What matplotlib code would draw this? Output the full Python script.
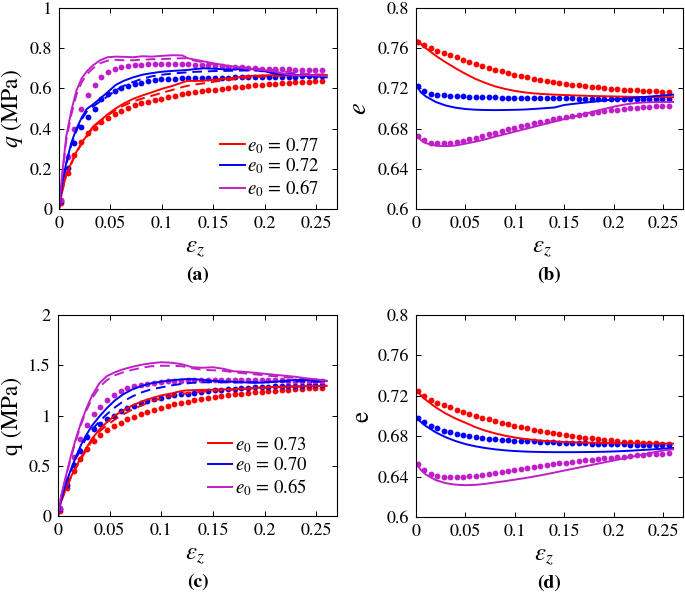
import matplotlib
matplotlib.use("Agg")
import matplotlib.pyplot as plt
from matplotlib.ticker import FuncFormatter

plt.rcParams['font.family'] = 'serif'
plt.rcParams['font.serif'] = ['STIXGeneral', 'Liberation Serif', 'DejaVu Serif']
plt.rcParams['mathtext.fontset'] = 'stix'

RED = '#ff0000'
BLUE = '#0000ff'
MAG = '#c01ec8'

# strain of the dotted series (shared by all panels)
dot_x = [0.002, 0.0085, 0.015, 0.0215, 0.028, 0.0345, 0.041, 0.0475, 0.054, 0.0605,
         0.067, 0.0735, 0.080, 0.0865, 0.093, 0.0995, 0.106, 0.1125, 0.119, 0.1255,
         0.132, 0.1385, 0.145, 0.1515, 0.158, 0.1645, 0.171, 0.1775, 0.184, 0.1905,
         0.197, 0.2035, 0.210, 0.2165, 0.223, 0.2295, 0.236, 0.2425, 0.249, 0.2555]

# strain of the q curves (a), (c)
q_x = [0, 0.003, 0.007, 0.012, 0.017, 0.022, 0.027, 0.033, 0.04, 0.047, 0.055, 0.063,
       0.072, 0.081, 0.09, 0.1, 0.11, 0.12, 0.125, 0.13, 0.14, 0.15, 0.16, 0.17, 0.18,
       0.19, 0.2, 0.21, 0.22, 0.23, 0.24, 0.25, 0.26]

# strain of the e curves (b), (d)
e_x = [0.001, 0.005, 0.01, 0.02, 0.03, 0.04, 0.05, 0.06, 0.07, 0.08, 0.09, 0.1, 0.11,
       0.12, 0.13, 0.14, 0.15, 0.16, 0.17, 0.18, 0.19, 0.2, 0.21, 0.22, 0.23, 0.24,
       0.25, 0.26]

# ---- panel (a) ----
a_red_solid = [0, 0.09, 0.17, 0.23, 0.285, 0.33, 0.365, 0.41, 0.44, 0.47, 0.50, 0.525,
               0.548, 0.565, 0.58, 0.598, 0.612, 0.63, 0.638, 0.637, 0.638, 0.643, 0.648,
               0.652, 0.66, 0.663, 0.665, 0.666, 0.664, 0.667, 0.665, 0.666, 0.667]
a_red_dash = [0, 0.085, 0.165, 0.225, 0.28, 0.325, 0.36, 0.405, 0.435, 0.465, 0.492, 0.515,
              0.535, 0.55, 0.563, 0.578, 0.592, 0.607, 0.613, 0.618, 0.625, 0.633, 0.64,
              0.645, 0.652, 0.657, 0.66, 0.662, 0.664, 0.665, 0.665, 0.664, 0.664]
a_blue_solid = [0, 0.12, 0.23, 0.33, 0.40, 0.455, 0.498, 0.52, 0.55, 0.58, 0.617, 0.638,
                0.655, 0.668, 0.676, 0.683, 0.687, 0.69, 0.692, 0.695, 0.70, 0.698, 0.695,
                0.694, 0.698, 0.695, 0.685, 0.672, 0.668, 0.665, 0.662, 0.66, 0.655]
a_blue_dash = [0, 0.11, 0.22, 0.32, 0.39, 0.445, 0.485, 0.51, 0.535, 0.56, 0.59, 0.613,
               0.632, 0.648, 0.66, 0.668, 0.674, 0.678, 0.68, 0.682, 0.684, 0.686, 0.687,
               0.688, 0.689, 0.689, 0.686, 0.68, 0.674, 0.67, 0.667, 0.665, 0.663]
a_mag_solid = [0, 0.17, 0.36, 0.49, 0.59, 0.65, 0.685, 0.715, 0.74, 0.755, 0.758, 0.757,
               0.755, 0.76, 0.758, 0.762, 0.765, 0.764, 0.75, 0.745, 0.735, 0.725, 0.716,
               0.708, 0.70, 0.695, 0.69, 0.683, 0.672, 0.665, 0.666, 0.664, 0.662]
a_mag_dash = [0, 0.16, 0.34, 0.47, 0.57, 0.63, 0.67, 0.70, 0.725, 0.738, 0.742, 0.74,
              0.74, 0.743, 0.745, 0.746, 0.748, 0.75, 0.75, 0.74, 0.73, 0.72, 0.713,
              0.707, 0.703, 0.699, 0.695, 0.69, 0.683, 0.677, 0.673, 0.67, 0.668]
a_red_dots = [0.03, 0.18, 0.27, 0.335, 0.378, 0.405, 0.432, 0.455, 0.473, 0.49,
              0.503, 0.515, 0.525, 0.533, 0.541, 0.549, 0.556, 0.563, 0.570, 0.576,
              0.581, 0.586, 0.590, 0.594, 0.598, 0.602, 0.606, 0.609, 0.612, 0.615,
              0.618, 0.621, 0.624, 0.626, 0.628, 0.63, 0.632, 0.634, 0.636, 0.638]
a_blue_dots = [0.04, 0.205, 0.327, 0.41, 0.46, 0.50, 0.545, 0.57, 0.587, 0.60,
               0.612, 0.621, 0.629, 0.636, 0.641, 0.645, 0.647, 0.649, 0.65, 0.651,
               0.652, 0.652, 0.653, 0.653, 0.654, 0.654, 0.655, 0.655, 0.656, 0.656,
               0.657, 0.657, 0.658, 0.658, 0.659, 0.659, 0.66, 0.66, 0.661, 0.661]
a_mag_dots = [0.045, 0.26, 0.40, 0.50, 0.568, 0.615, 0.655, 0.682, 0.698, 0.706,
              0.712, 0.716, 0.718, 0.72, 0.721, 0.722, 0.722, 0.721, 0.72, 0.719,
              0.718, 0.716, 0.714, 0.712, 0.71, 0.708, 0.706, 0.704, 0.702, 0.70,
              0.699, 0.698, 0.697, 0.696, 0.695, 0.694, 0.693, 0.692, 0.692, 0.691]
a_labels = ['$e_0\\,=\\,0.77$', '$e_0\\,=\\,0.72$', '$e_0\\,=\\,0.67$']

# ---- panel (b) ----
b_red_solid = [0.768, 0.764, 0.76, 0.7525, 0.746, 0.74, 0.7345, 0.7295, 0.7255, 0.722,
               0.7195, 0.7175, 0.716, 0.715, 0.7143, 0.7138, 0.7134, 0.713, 0.7127, 0.7124,
               0.7122, 0.712, 0.7118, 0.7116, 0.7115, 0.7114, 0.7113, 0.7112]
b_blue_solid = [0.722, 0.716, 0.712, 0.7065, 0.703, 0.7008, 0.6995, 0.6988, 0.6985, 0.6984,
                0.6985, 0.6987, 0.699, 0.6996, 0.7003, 0.701, 0.7035, 0.7047, 0.7058, 0.7068,
                0.7079, 0.709, 0.7098, 0.7106, 0.7114, 0.7122, 0.713, 0.7137]
b_mag_solid = [0.6735, 0.6685, 0.6655, 0.663, 0.6625, 0.6632, 0.665, 0.667, 0.6693, 0.672,
               0.6745, 0.677, 0.6795, 0.682, 0.6845, 0.687, 0.6895, 0.692, 0.6945, 0.697,
               0.6995, 0.7018, 0.7038, 0.7052, 0.706, 0.7063, 0.7064, 0.7065]
b_red_dots = [0.7665, 0.7632, 0.760, 0.757, 0.7548, 0.7528, 0.7508, 0.7485, 0.7465, 0.7445,
              0.7425, 0.7407, 0.7388, 0.737, 0.7354, 0.7338, 0.7324, 0.731, 0.7297, 0.7285,
              0.7274, 0.7263, 0.7254, 0.7245, 0.7237, 0.723, 0.7223, 0.7216, 0.721, 0.7204,
              0.7198, 0.7193, 0.7188, 0.7184, 0.718, 0.7176, 0.7173, 0.717, 0.7167, 0.7165]
b_blue_dots = [0.722, 0.717, 0.7145, 0.7135, 0.713, 0.7125, 0.7122, 0.712, 0.7118, 0.7116,
               0.7114, 0.7112, 0.711, 0.7109, 0.7108, 0.7107, 0.7106, 0.7105, 0.7104, 0.7103,
               0.7102, 0.7101, 0.71, 0.71, 0.71, 0.7099, 0.7099, 0.7098, 0.7098, 0.7098,
               0.7097, 0.7097, 0.7097, 0.7096, 0.7096, 0.7096, 0.7095, 0.7095, 0.7095, 0.7095]
b_mag_dots = [0.673, 0.6687, 0.666, 0.6652, 0.6652, 0.6658, 0.6668, 0.668, 0.6695, 0.671,
              0.6727, 0.6743, 0.676, 0.6776, 0.6792, 0.6808, 0.6823, 0.6838, 0.6853, 0.6867,
              0.688, 0.6893, 0.6905, 0.6917, 0.6928, 0.6939, 0.6949, 0.6958, 0.6967, 0.6975,
              0.6983, 0.699, 0.6996, 0.7002, 0.7007, 0.7012, 0.7016, 0.702, 0.7023, 0.7025]

# ---- panel (c) ----
c_red_solid = [0, 0.15, 0.26, 0.38, 0.48, 0.58, 0.67, 0.77, 0.86, 0.93, 1.0, 1.05,
               1.1, 1.14, 1.17, 1.2, 1.22, 1.245, 1.25, 1.252, 1.255, 1.257, 1.26,
               1.262, 1.268, 1.275, 1.28, 1.285, 1.288, 1.29, 1.292, 1.293, 1.295]
c_red_dash = [0, 0.14, 0.25, 0.37, 0.47, 0.56, 0.65, 0.75, 0.84, 0.9, 0.96, 1.01,
              1.06, 1.1, 1.14, 1.17, 1.195, 1.215, 1.222, 1.228, 1.237, 1.245, 1.252,
              1.258, 1.264, 1.27, 1.275, 1.28, 1.284, 1.288, 1.291, 1.294, 1.297]
c_blue_solid = [0, 0.16, 0.3, 0.45, 0.58, 0.7, 0.8, 0.9, 0.99, 1.07, 1.15, 1.21,
                1.26, 1.295, 1.32, 1.337, 1.35, 1.36, 1.362, 1.362, 1.355, 1.345, 1.34,
                1.335, 1.33, 1.325, 1.328, 1.335, 1.345, 1.355, 1.352, 1.348, 1.345]
c_blue_dash = [0, 0.15, 0.29, 0.44, 0.56, 0.67, 0.77, 0.86, 0.94, 1.01, 1.08, 1.14,
               1.19, 1.23, 1.26, 1.28, 1.3, 1.315, 1.32, 1.325, 1.33, 1.332, 1.33,
               1.328, 1.33, 1.332, 1.334, 1.336, 1.338, 1.34, 1.338, 1.336, 1.335]
c_mag_solid = [0, 0.2, 0.37, 0.58, 0.76, 0.92, 1.06, 1.2, 1.32, 1.39, 1.43, 1.46,
               1.485, 1.505, 1.52, 1.53, 1.525, 1.51, 1.495, 1.48, 1.475, 1.48, 1.465,
               1.44, 1.435, 1.425, 1.415, 1.405, 1.395, 1.385, 1.37, 1.36, 1.345]
c_mag_dash = [0, 0.19, 0.36, 0.56, 0.74, 0.9, 1.04, 1.17, 1.28, 1.35, 1.4, 1.43,
              1.455, 1.475, 1.49, 1.495, 1.495, 1.49, 1.48, 1.47, 1.455, 1.45, 1.445,
              1.43, 1.42, 1.41, 1.4, 1.39, 1.38, 1.375, 1.365, 1.355, 1.345]
c_red_dots = [0.05, 0.28, 0.45, 0.57, 0.67, 0.745, 0.805, 0.855, 0.895, 0.93,
              0.962, 0.99, 1.015, 1.038, 1.058, 1.077, 1.094, 1.11, 1.125, 1.138,
              1.15, 1.162, 1.173, 1.183, 1.192, 1.201, 1.209, 1.217, 1.224, 1.231,
              1.237, 1.243, 1.248, 1.253, 1.258, 1.262, 1.266, 1.27, 1.273, 1.276]
c_blue_dots = [0.07, 0.31, 0.505, 0.65, 0.79, 0.87, 0.92, 0.965, 1.0, 1.04,
               1.07, 1.095, 1.12, 1.145, 1.163, 1.178, 1.19, 1.2, 1.21, 1.218,
               1.226, 1.234, 1.242, 1.25, 1.256, 1.262, 1.268, 1.273, 1.278, 1.282,
               1.285, 1.288, 1.29, 1.292, 1.294, 1.296, 1.298, 1.299, 1.30, 1.301]
c_mag_dots = [0.077, 0.36, 0.59, 0.77, 0.905, 1.01, 1.085, 1.15, 1.2, 1.24,
              1.27, 1.29, 1.305, 1.318, 1.328, 1.335, 1.34, 1.344, 1.347, 1.349,
              1.35, 1.351, 1.351, 1.352, 1.352, 1.352, 1.352, 1.352, 1.351, 1.351,
              1.35, 1.35, 1.349, 1.349, 1.348, 1.347, 1.346, 1.345, 1.344, 1.343]
c_labels = ['$e_0\\,=\\,0.73$', '$e_0\\,=\\,0.70$', '$e_0\\,=\\,0.65$']

# ---- panel (d) ----
d_red_solid = [0.7255, 0.7205, 0.716, 0.7085, 0.7025, 0.6975, 0.6933, 0.689, 0.6855, 0.6828,
               0.6805, 0.6787, 0.6773, 0.6762, 0.6754, 0.6748, 0.6743, 0.674, 0.6737, 0.6735,
               0.6733, 0.6731, 0.673, 0.6729, 0.6728, 0.6728, 0.6727, 0.6727]
d_blue_solid = [0.6985, 0.694, 0.690, 0.6838, 0.679, 0.6752, 0.6722, 0.67, 0.6683, 0.667,
                0.666, 0.6653, 0.6648, 0.6645, 0.6643, 0.6642, 0.6642, 0.6642, 0.6643, 0.6644,
                0.6646, 0.6649, 0.6653, 0.6658, 0.6664, 0.667, 0.6677, 0.6683]
d_mag_solid = [0.652, 0.6465, 0.642, 0.6365, 0.6335, 0.632, 0.6315, 0.6318, 0.6328, 0.6342,
               0.6355, 0.637, 0.6385, 0.6402, 0.642, 0.644, 0.646, 0.648, 0.650, 0.652,
               0.654, 0.656, 0.658, 0.66, 0.662, 0.664, 0.666, 0.667]
d_red_dots = [0.725, 0.7198, 0.7158, 0.7132, 0.711, 0.7085, 0.7062, 0.704, 0.702, 0.7001,
              0.6983, 0.6966, 0.695, 0.6934, 0.6919, 0.6905, 0.6891, 0.6878, 0.6866, 0.6854,
              0.6843, 0.6832, 0.6822, 0.6812, 0.6803, 0.6794, 0.6786, 0.6778, 0.6771, 0.6764,
              0.6758, 0.6752, 0.6747, 0.6742, 0.6738, 0.6734, 0.6731, 0.6728, 0.6726, 0.6724]
d_blue_dots = [0.698, 0.6944, 0.6904, 0.6878, 0.6856, 0.6837, 0.6822, 0.6809, 0.6799, 0.679,
               0.6782, 0.6775, 0.677, 0.6765, 0.6761, 0.6757, 0.6754, 0.6751, 0.6748, 0.6745,
               0.6742, 0.674, 0.6737, 0.6735, 0.6733, 0.6731, 0.6729, 0.6727, 0.6725, 0.6723,
               0.6721, 0.672, 0.6718, 0.6716, 0.6715, 0.6713, 0.6712, 0.671, 0.6709, 0.6708]
d_mag_dots = [0.652, 0.6465, 0.643, 0.641, 0.6398, 0.6393, 0.6393, 0.6397, 0.6403, 0.641,
              0.6418, 0.6427, 0.6436, 0.6445, 0.6455, 0.6465, 0.6475, 0.6484, 0.6494, 0.6503,
              0.6512, 0.6521, 0.653, 0.6538, 0.6546, 0.6554, 0.6561, 0.6568, 0.6575, 0.6582,
              0.6588, 0.6594, 0.6599, 0.6605, 0.661, 0.6614, 0.6619, 0.6623, 0.6627, 0.663]

x_ticks = [0, 0.05, 0.1, 0.15, 0.2, 0.25]
q_ticks_a = [0, 0.2, 0.4, 0.6, 0.8, 1]
q_ticks_c = [0, 0.5, 1, 1.5, 2]
e_ticks = [0.6, 0.64, 0.68, 0.72, 0.76, 0.8]

W, H = 685, 598
fig = plt.figure(figsize=(W / 100, H / 100), dpi=100)


def px_axes(l, t, r, b):
    return fig.add_axes([l / W, 1 - b / H, (r - l) / W, (b - t) / H])


fmt = FuncFormatter(lambda v, p: ('%g' % round(v, 4)))


def style(ax, yticks):
    ax.set_xlim(0, 0.27)
    ax.set_ylim(yticks[0], yticks[-1])
    ax.set_xticks(x_ticks)
    ax.set_yticks(yticks)
    ax.xaxis.set_major_formatter(fmt)
    ax.yaxis.set_major_formatter(fmt)
    ax.tick_params(direction='in', top=True, right=True, length=3.5, width=0.7,
                   labelsize=13, pad=5)
    for s in ax.spines.values():
        s.set_linewidth(0.8)


lw = 1.4
ms = 4.2
leg_kw = dict(loc='lower right', frameon=False, fontsize=13.5, handlelength=1.3,
              handletextpad=0.15, labelspacing=0.05, borderpad=0, borderaxespad=0)

ax_a = px_axes(59, 8, 337, 209)
ax_b = px_axes(416, 8, 683, 209)
ax_c = px_axes(58, 315, 337, 516)
ax_d = px_axes(416, 315, 683, 517)

# (a)
for ys, c in [(a_red_dots, RED), (a_blue_dots, BLUE), (a_mag_dots, MAG)]:
    ax_a.plot(dot_x, ys, 'o', color=c, ms=ms, mec='none')
for ys, c in [(a_red_dash, RED), (a_blue_dash, BLUE), (a_mag_dash, MAG)]:
    ax_a.plot(q_x, ys, '--', color=c, lw=lw, dashes=(5, 3))
hs = []
for ys, c in [(a_red_solid, RED), (a_blue_solid, BLUE), (a_mag_solid, MAG)]:
    hs += ax_a.plot(q_x, ys, '-', color=c, lw=lw)
ax_a.legend(hs, a_labels, bbox_to_anchor=(0.94, 0.05), **leg_kw)
style(ax_a, q_ticks_a)
ax_a.set_ylabel('$q$ (MPa)', fontsize=17, va='center')
ax_a.yaxis.set_label_coords(-0.17, 0.5)

# (b)
for ys, c in [(b_red_dots, RED), (b_blue_dots, BLUE), (b_mag_dots, MAG)]:
    ax_b.plot(dot_x, ys, 'o', color=c, ms=ms, mec='none')
for ys, c in [(b_red_solid, RED), (b_blue_solid, BLUE), (b_mag_solid, MAG)]:
    ax_b.plot(e_x, ys, '-', color=c, lw=lw)
style(ax_b, e_ticks)
ax_b.set_ylabel('$e$', fontsize=19, va='center')
ax_b.yaxis.set_label_coords(-0.21, 0.5)

# (c)
for ys, c in [(c_red_dots, RED), (c_blue_dots, BLUE), (c_mag_dots, MAG)]:
    ax_c.plot(dot_x, ys, 'o', color=c, ms=ms, mec='none')
for ys, c in [(c_red_dash, RED), (c_blue_dash, BLUE), (c_mag_dash, MAG)]:
    ax_c.plot(q_x, ys, '--', color=c, lw=lw, dashes=(5, 3))
hs = []
for ys, c in [(c_red_solid, RED), (c_blue_solid, BLUE), (c_mag_solid, MAG)]:
    hs += ax_c.plot(q_x, ys, '-', color=c, lw=lw)
ax_c.legend(hs, c_labels, bbox_to_anchor=(0.895, 0.09), **leg_kw)
style(ax_c, q_ticks_c)
ax_c.set_ylabel('q (MPa)', fontsize=17, va='center')
ax_c.yaxis.set_label_coords(-0.165, 0.5)

# (d)
for ys, c in [(d_red_dots, RED), (d_blue_dots, BLUE), (d_mag_dots, MAG)]:
    ax_d.plot(dot_x, ys, 'o', color=c, ms=ms, mec='none')
for ys, c in [(d_red_solid, RED), (d_blue_solid, BLUE), (d_mag_solid, MAG)]:
    ax_d.plot(e_x, ys, '-', color=c, lw=lw)
style(ax_d, e_ticks)
ax_d.set_ylabel('e', fontsize=18, va='center')
ax_d.yaxis.set_label_coords(-0.2, 0.5)

# x labels and panel tags
for ax, tag, lx in [(ax_a, '(a)', 0.49), (ax_b, '(b)', 0.47),
                    (ax_c, '(c)', 0.49), (ax_d, '(d)', 0.48)]:
    ax.set_xlabel('$\\varepsilon_z$', fontsize=18, va='center')
    ax.xaxis.set_label_coords(lx, -0.195)
    ax.text(0.5, -0.33, tag, transform=ax.transAxes, ha='center', va='center',
            fontsize=14, fontweight='bold')

fig.savefig('out.png', dpi=100)
